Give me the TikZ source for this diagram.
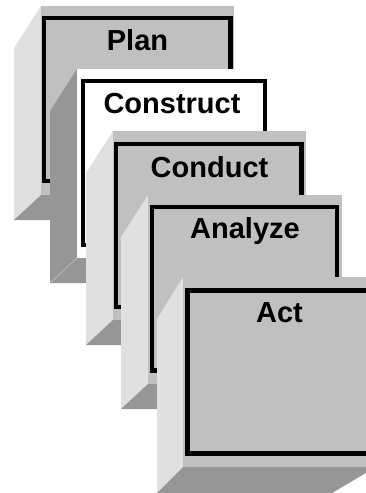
\documentclass[tikz,border=0pt]{standalone}
\usepackage{fontspec}
\setmainfont{Liberation Sans}
\definecolor{facegray}{HTML}{C0C0C0}
\definecolor{sidegray}{HTML}{E0E0E0}
\definecolor{bottomgray}{HTML}{969696}
\begin{document}
\begin{tikzpicture}[x=1pt,y=-1pt,
  sideface/.style={fill=sidegray},
  darkface/.style={fill=bottomgray},
  frontface/.style={fill=facegray},
  whiteface/.style={fill=white},
  cardframe/.style={draw=black,line width=4.5pt,line join=miter},
  cardlabel/.style={font=\bfseries\fontsize{29}{29}\selectfont,anchor=base,inner sep=0pt},
  seam/.style={draw=facegray,line width=0.6pt}]
\useasboundingbox (0,0) rectangle (366,493);
\clip (0,0) rectangle (366,493);
% Plan
\fill[sideface] (41,6) -- (14,48) -- (14,220) -- (41,195) -- cycle;
\fill[darkface] (41,195) -- (234,195) -- (190,220) -- (14,220) -- cycle;
\fill[frontface] (41,6) rectangle (234,195);
\draw[cardframe] (44,18) rectangle (230.5,181);
\node[cardlabel] (plan) at (137.5,50.5) {Plan};
% Construct
\fill[darkface] (77,69) -- (50,111) -- (50,283) -- (77,258) -- cycle;
\fill[darkface] (77,258) -- (267,258) -- (223,283) -- (50,283) -- cycle;
\draw[seam] (50,283) -- (77,258);
\fill[whiteface] (77,69) rectangle (267,258);
\draw[cardframe] (83,81) rectangle (265,245);
\node[cardlabel] (construct) at (172,113) {Construct};
% Conduct
\fill[sideface] (113,131) -- (86,173) -- (86,345) -- (113,320) -- cycle;
\fill[darkface] (113,320) -- (306,320) -- (262,345) -- (86,345) -- cycle;
\fill[frontface] (113,131) rectangle (306,320);
\draw[cardframe] (115.8,144) rectangle (301.5,307);
\node[cardlabel] (conduct) at (209.5,177) {Conduct};
% Analyze
\fill[sideface] (148,195) -- (121,237) -- (121,409) -- (148,384) -- cycle;
\fill[darkface] (148,384) -- (342,384) -- (298,409) -- (121,409) -- cycle;
\fill[frontface] (148,195) rectangle (342,384);
\draw[cardframe] (152,207) rectangle (337,370.5);
\node[cardlabel] (analyze) at (245,238) {Analyze};
% Act
\fill[sideface] (183,277) -- (157,319) -- (157,493) -- (183,467) -- cycle;
\fill[darkface] (183,467) -- (376,467) -- (332,493) -- (157,493) -- cycle;
\fill[frontface] (183,277) rectangle (376,467);
\draw[cardframe] (187.5,290.5) rectangle (372,453.5);
\node[cardlabel] (act) at (279.5,322) {Act};
\end{tikzpicture}
\end{document}
